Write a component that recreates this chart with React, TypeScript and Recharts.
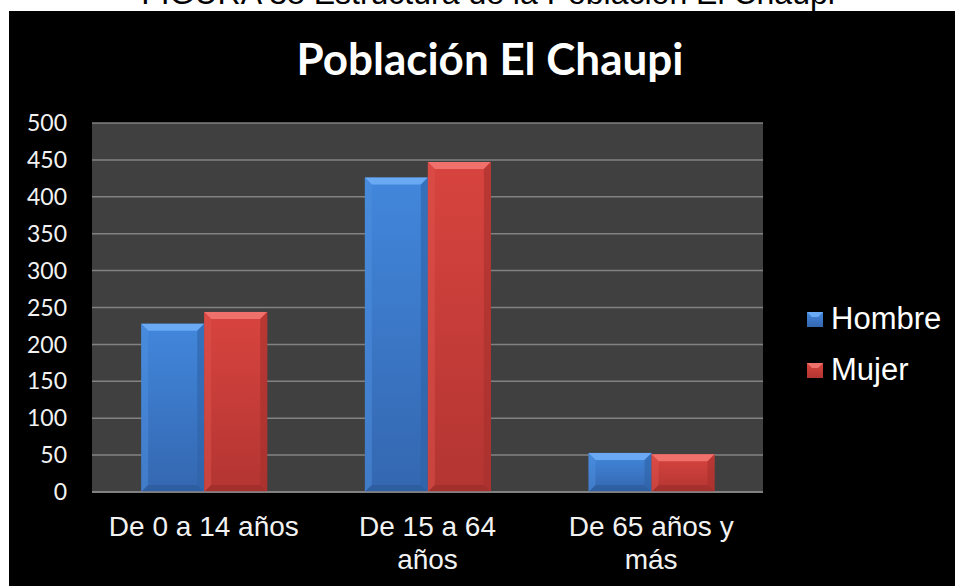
import React from 'react';
import { BarChart, Bar, XAxis, YAxis, CartesianGrid } from 'recharts';

const categories = ['De 0 a 14 años', 'De 15 a 64 años', 'De 65 años y más'];
const hombre = [228, 426, 53];
const mujer = [244, 447, 51];
const seriesNames = ['Hombre', 'Mujer'];
const yTicks = [0, 50, 100, 150, 200, 250, 300, 350, 400, 450, 500];

const chartTitle = 'Población El Chaupi';
const figureCaption = 'FIGURA 38 Estructura de la Población El Chaupi';

const chartData = categories.map((cat, i) => ({
  category: cat,
  Hombre: hombre[i],
  Mujer: mujer[i],
}));

const palette: Record<string, any> = {
  Hombre: { top: '#4287dc', bottom: '#3467b0', bevelTop: '#6aaaf4', bevelLeft: '#4d8fe0', bevelRight: '#2f62a6', bevelBottom: '#2b5896' },
  Mujer: { top: '#d8443f', bottom: '#b33532', bevelTop: '#f0706b', bevelLeft: '#de514c', bevelRight: '#a5302d', bevelBottom: '#972b29' },
};

const labelFont = '28px "Liberation Sans", Arial, sans-serif';

// word wrap like the original axis labels (max ~205px per line)
const wrapLabel = (label: string, maxWidth: number) => {
  const ctx = document.createElement('canvas').getContext('2d');
  if (!ctx) return [label];
  ctx.font = labelFont;
  const words = label.split(' ');
  const lines: string[] = [];
  let cur = '';
  words.forEach((w) => {
    const next = cur ? `${cur} ${w}` : w;
    if (cur && ctx.measureText(next).width > maxWidth) {
      lines.push(cur);
      cur = w;
    } else {
      cur = next;
    }
  });
  if (cur) lines.push(cur);
  return lines;
};

const bevelBar = (name: string) => (props: any) => {
  const { x, y, width, height } = props;
  if (!height || height <= 0) return <g />;
  const c = palette[name];
  const b = Math.min(7, height / 2, width / 2);
  return (
    <g>
      <rect x={x} y={y} width={width} height={height} fill={`url(#grad-${name})`} />
      <polygon points={`${x},${y} ${x + width},${y} ${x + width - b},${y + b} ${x + b},${y + b}`} fill={c.bevelTop} />
      <polygon points={`${x},${y} ${x + b},${y + b} ${x + b},${y + height - b} ${x},${y + height}`} fill={c.bevelLeft} opacity={0.5} />
      <polygon points={`${x + width},${y} ${x + width - b},${y + b} ${x + width - b},${y + height - b} ${x + width},${y + height}`} fill={c.bevelRight} opacity={0.6} />
      <polygon points={`${x},${y + height} ${x + b},${y + height - b} ${x + width - b},${y + height - b} ${x + width},${y + height}`} fill={c.bevelBottom} opacity={0.6} />
    </g>
  );
};

const CategoryTick = (props: any) => {
  const { x, y, payload } = props;
  const lines = wrapLabel(String(payload.value), 205);
  return (
    <text
      x={x}
      y={y + 44}
      textAnchor="middle"
      fill="#f2f2f2"
      style={{ fontFamily: '"Liberation Sans", Arial, sans-serif', fontSize: 28 }}
    >
      {lines.map((ln, i) => (
        <tspan key={i} x={x} dy={i === 0 ? 0 : 33}>
          {ln}
        </tspan>
      ))}
    </text>
  );
};

export default function App() {
  return (
    <div style={{ position: 'absolute', left: 0, top: 0, width: 955, height: 586, background: '#fff', overflow: 'hidden' }}>
      <div style={{ position: 'absolute', left: 9, top: 11, width: 946, height: 575, background: '#000' }}>
        <BarChart
          width={946}
          height={575}
          data={chartData}
          margin={{ top: 112, right: 192, left: 23, bottom: 14 }}
          barCategoryGap="22%"
          barGap={0}
        >
          <defs>
            {seriesNames.map((n) => (
              <linearGradient key={n} id={`grad-${n}`} x1="0" y1="0" x2="0" y2="1">
                <stop offset="0%" stopColor={palette[n].top} />
                <stop offset="100%" stopColor={palette[n].bottom} />
              </linearGradient>
            ))}
          </defs>
          <CartesianGrid vertical={false} fill="#404040" stroke="#8a8a8a" strokeWidth={1.5} strokeOpacity={0.9} />
          <XAxis
            dataKey="category"
            height={80}
            axisLine={{ stroke: '#8a8a8a', strokeWidth: 1.5 }}
            tickLine={false}
            tickSize={0}
            tickMargin={0}
            interval={0}
            tick={<CategoryTick />}
          />
          <YAxis
            width={60}
            domain={[0, 500]}
            ticks={yTicks}
            axisLine={false}
            tickLine={false}
            tickSize={0}
            tickMargin={25}
            tick={{ fill: '#f2f2f2', fontSize: 23, fontFamily: 'Lato, sans-serif' }}
          />
          {seriesNames.map((n) => (
            <Bar key={n} dataKey={n} isAnimationActive={false} shape={bevelBar(n)} />
          ))}
        </BarChart>
      </div>
      <svg width={955} height={586} style={{ position: 'absolute', left: 0, top: 0, pointerEvents: 'none' }}>
        <text x={488} y={4} textAnchor="middle" fill="#000" style={{ fontFamily: '"Liberation Sans", Arial, sans-serif', fontSize: 32 }}>
          {figureCaption}
        </text>
        <text x={490} y={75} textAnchor="middle" fill="#fff" style={{ fontFamily: 'Lato, sans-serif', fontSize: 44, fontWeight: 700 }}>
          {chartTitle}
        </text>
        {seriesNames.map((n, i) => (
          <g key={n}>
            <rect x={807} y={312 + i * 51} width={16} height={15} fill={`url(#lgrad-${n})`} />
            <polygon points={`807,${312 + i * 51} 823,${312 + i * 51} 818,${317 + i * 51} 812,${317 + i * 51}`} fill={palette[n].bevelTop} />
            <text x={831} y={329 + i * 51} fill="#fff" style={{ fontFamily: '"Liberation Sans", Arial, sans-serif', fontSize: 31 }}>
              {n}
            </text>
          </g>
        ))}
        <defs>
          {seriesNames.map((n) => (
            <linearGradient key={n} id={`lgrad-${n}`} x1="0" y1="0" x2="0" y2="1">
              <stop offset="0%" stopColor={palette[n].top} />
              <stop offset="100%" stopColor={palette[n].bottom} />
            </linearGradient>
          ))}
        </defs>
      </svg>
    </div>
  );
}
